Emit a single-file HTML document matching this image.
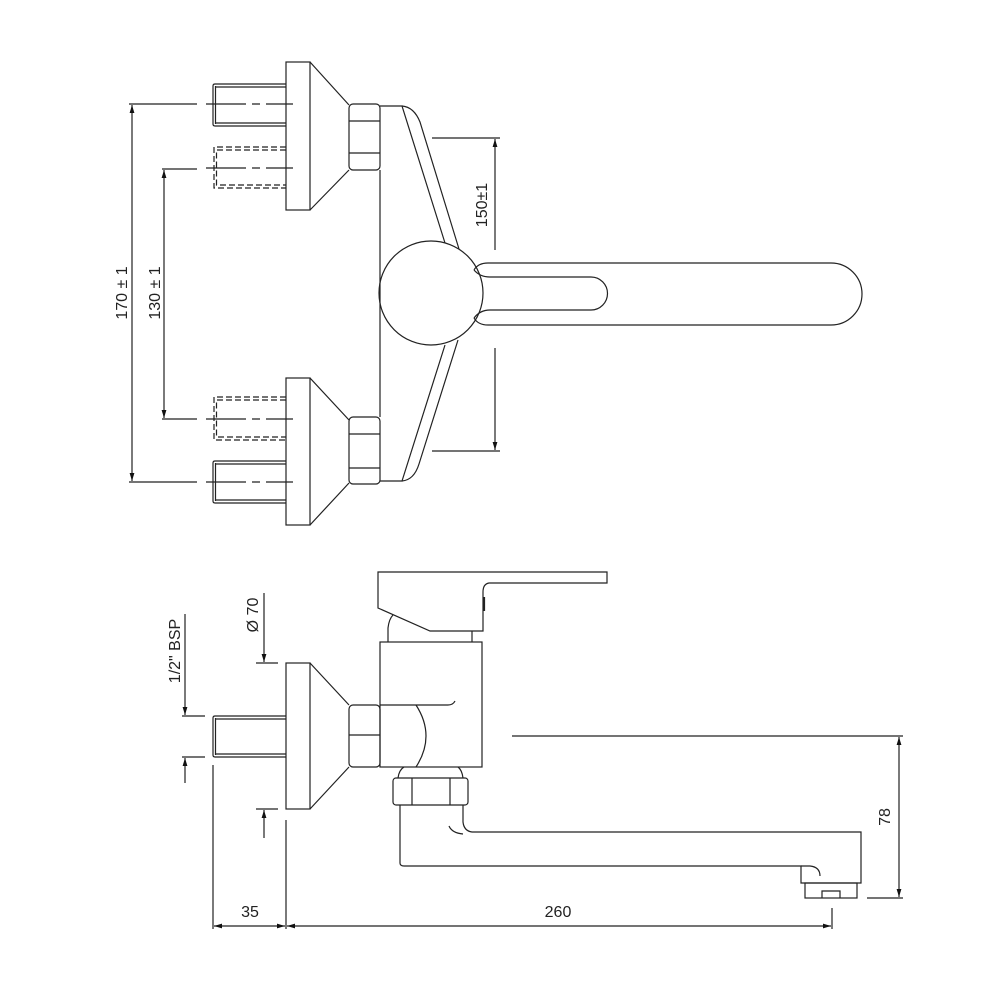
<!DOCTYPE html>
<html><head><meta charset="utf-8"><style>
html,body{margin:0;padding:0;background:#fff}
svg{display:block}
text{font-family:"Liberation Sans",sans-serif;font-size:16px;fill:#222}
</style></head><body>
<svg width="1000" height="1000" viewBox="0 0 1000 1000" xmlns="http://www.w3.org/2000/svg">
<defs>
<marker id="a" viewBox="0 0 10 10" refX="10" refY="5" markerWidth="12" markerHeight="8" markerUnits="userSpaceOnUse" orient="auto-start-reverse"><path d="M0,2 L10,5 L0,8 Z" fill="#111"/></marker>
</defs>
<g fill="none" stroke="#222" stroke-width="1.2">
<rect x="286" y="62" width="24" height="148"/>
<path d="M310,62 L349,105 M310,210 L349,170"/>
<rect x="349" y="104" width="31" height="66" rx="4"/>
<path d="M349,121 H380 M349,153 H380"/>
<path d="M286,84 H215 Q213,84 213,86 V124 Q213,126 215,126 H286 M286,87 H215.5 M286,123 H215.5 M215.5,86 V124"/>
<path d="M206,104 H293" stroke-dasharray="40,6,8,6"/>
<path d="M286,147 H214 V188 H286 M286,150 H216.5 V185 H286" stroke-dasharray="6,3"/>
<path d="M206,168 H293" stroke-dasharray="40,6,8,6"/>
<rect x="286" y="378" width="24" height="147"/>
<path d="M310,378 L349,420 M310,525 L349,483"/>
<rect x="349" y="417" width="31" height="67" rx="4"/>
<path d="M349,434 H380 M349,468 H380"/>
<path d="M286,397 H214 V440 H286 M286,400 H216.5 V437 H286" stroke-dasharray="6,3"/>
<path d="M206,419 H293" stroke-dasharray="40,6,8,6"/>
<path d="M286,461 H215 Q213,461 213,463 V501 Q213,503 215,503 H286 M286,464 H215.5 M286,500 H215.5 M215.5,463 V501"/>
<path d="M206,482 H293" stroke-dasharray="40,6,8,6"/>
<path d="M380,170 V417"/>
<path d="M380,106 H402 L445,243"/>
<path d="M402,106 Q414,107 420,122 L459,249"/>
<path d="M380,481 H402 L445,345"/>
<path d="M402,481 Q414,480 419,464 L458,340"/>
<circle cx="431" cy="293" r="52"/>
<path d="M474,270 Q478,263 488,263 H831 A31,31 0 0 1 831,325 H488 Q478,325 474,318"/>
<path d="M474,270 Q480,277 490,277 H591 A16.5,16.5 0 0 1 591,310 H490 Q480,310 474,318"/>
<path d="M432,138 H500 M432,451 H500"/>
<path d="M495,250 V139" marker-end="url(#a)"/>
<path d="M495,348 V450" marker-end="url(#a)"/>
<path d="M129,104 H197 M129,482 H197 M162,169 H197 M162,419 H197"/>
<path d="M132,105 V481" marker-start="url(#a)" marker-end="url(#a)"/>
<path d="M164,170 V418" marker-start="url(#a)" marker-end="url(#a)"/>

<rect x="286" y="663" width="24" height="146"/>
<path d="M310,663 L349,705 M310,809 L349,767"/>
<rect x="349" y="705" width="31" height="62" rx="4"/>
<path d="M349,735 H380"/>
<path d="M286,716 H215 Q213,716 213,718 V755 Q213,757 215,757 H286 M286,719 H215.5 M286,754 H215.5 M215.5,718 V755"/>
<rect x="380" y="642" width="102" height="125"/>
<path d="M380,705 H448 Q453,705 455,701"/>
<path d="M416,705 Q436,736 416,767"/>
<path d="M378,572 H607 V583 H489 Q483,584 483,592 V631 H430 L378,608 Z"/>
<path d="M484,597 V611" stroke-width="2.2"/>
<path d="M388,642 V628 Q389,619 393,615 M472,631 V642"/>
<rect x="393" y="778" width="75" height="27" rx="3"/>
<path d="M412,778 V805 M450,778 V805"/>
<path d="M398,778 Q399,770 404,767 M463,778 Q462,770 458,767"/>
<path d="M400,805 V863 Q400,866 404,866 H801 V883 H861 V832 H472 Q464,831 463,822 V805"/>
<path d="M449,826 Q452,833 463,834"/>
<path d="M801,866 H810 Q820,867 820,876"/>
<rect x="805" y="883" width="52" height="15"/>
<path d="M822,898 V891 H840 V898"/>
<path d="M512,736 H903 M867,898 H903"/>
<path d="M899,737 V897" marker-start="url(#a)" marker-end="url(#a)"/>
<path d="M213,765 V929 M286,820 V929 M832,908 V929"/>
<path d="M214,926 H285" marker-start="url(#a)" marker-end="url(#a)"/>
<path d="M287,926 H831" marker-start="url(#a)" marker-end="url(#a)"/>
<path d="M256,663 H278 M256,809 H278"/>
<path d="M264,593 V662" marker-end="url(#a)"/>
<path d="M264,838 V810" marker-end="url(#a)"/>
<path d="M182,716 H205 M182,757 H205"/>
<path d="M185,614 V715" marker-end="url(#a)"/>
<path d="M185,783 V758" marker-end="url(#a)"/>
</g>
<text transform="translate(487,205) rotate(-90)" text-anchor="middle">150±1</text>
<text transform="translate(127,293) rotate(-90)" text-anchor="middle">170 ± 1</text>
<text transform="translate(160,293) rotate(-90)" text-anchor="middle">130 ± 1</text>
<text transform="translate(258,615) rotate(-90)" text-anchor="middle">Ø 70</text>
<text transform="translate(180,651) rotate(-90)" text-anchor="middle">1/2" BSP</text>
<text transform="translate(890,817) rotate(-90)" text-anchor="middle">78</text>
<text x="250" y="917" text-anchor="middle">35</text>
<text x="558" y="917" text-anchor="middle">260</text>
</svg>
</body></html>
